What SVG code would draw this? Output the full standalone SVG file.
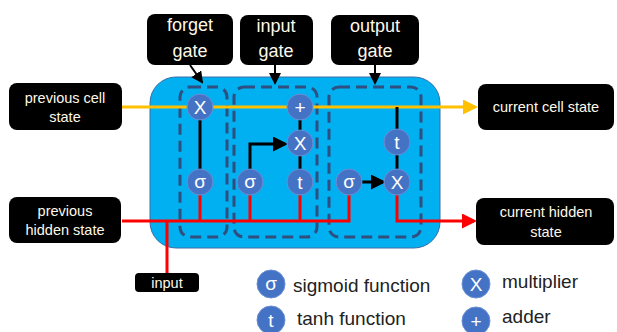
<svg xmlns="http://www.w3.org/2000/svg" width="617" height="332" viewBox="0 0 617 332">
<defs>
<style>
.lbl{fill:#000;}
.lt{fill:#FFF8E8;font-family:"Liberation Sans",Arial,sans-serif;font-size:14.5px;text-anchor:middle;}
.gt{fill:#FFF8E8;font-family:"Liberation Sans",Arial,sans-serif;font-size:18px;text-anchor:middle;}
.op circle{fill:#4472C4;stroke:#6A8FD6;stroke-width:1;}
.op text{fill:#fff;font-family:"Liberation Sans",Arial,sans-serif;font-size:19px;text-anchor:middle;}
.dash{fill:none;stroke:#2F4F80;stroke-width:3;stroke-dasharray:11 6;}
.blk{stroke:#000;stroke-width:3;fill:none;}
.red{stroke:#FF0000;stroke-width:3;fill:none;}
.yel{stroke:#FFC000;stroke-width:3;fill:none;}
.leg{fill:#222;font-family:"Liberation Sans",Arial,sans-serif;font-size:19px;}
</style>
<marker id="ab" markerWidth="6" markerHeight="6" refX="5" refY="3" orient="auto" markerUnits="strokeWidth"><path d="M0,0 L6,3 L0,6 z" fill="#000"/></marker>
<marker id="ab2" markerWidth="5" markerHeight="5" refX="4" refY="2.5" orient="auto" markerUnits="strokeWidth"><path d="M0,0 L5,2.5 L0,5 z" fill="#000"/></marker>
<marker id="ay" markerWidth="5" markerHeight="5" refX="4" refY="2.5" orient="auto" markerUnits="strokeWidth"><path d="M0,0 L5,2.5 L0,5 z" fill="#FFC000"/></marker>
<marker id="ar" markerWidth="5" markerHeight="5" refX="4" refY="2.5" orient="auto" markerUnits="strokeWidth"><path d="M0,0 L5,2.5 L0,5 z" fill="#FF0000"/></marker>
</defs>

<g id="cell">
<rect x="150" y="77" width="290" height="171" rx="26" fill="#00B0F0" stroke="#3A6FA8" stroke-width="1"/>
</g>

<g id="gate-regions">
<rect class="dash" x="180" y="87" width="47" height="150" rx="10"/>
<rect class="dash" x="234" y="87" width="83" height="150" rx="10"/>
<rect class="dash" x="329" y="87" width="92" height="150" rx="10"/>
</g>

<g id="connectors">
<line class="yel" x1="122" y1="107" x2="475" y2="107" marker-end="url(#ay)"/>
<path class="red" d="M122,221 H349 V195"/>
<line class="red" x1="200" y1="195" x2="200" y2="221"/>
<line class="red" x1="250" y1="195" x2="250" y2="221"/>
<line class="red" x1="300" y1="195" x2="300" y2="221"/>
<line class="red" x1="167" y1="221" x2="167" y2="273"/>
<path class="red" d="M397,195 V221 H474" marker-end="url(#ar)"/>
<line class="blk" x1="200" y1="120" x2="200" y2="169"/>
<line class="blk" x1="300" y1="120" x2="300" y2="169"/>
<path class="blk" d="M250,169 V144 H285" marker-end="url(#ab2)"/>
<line class="blk" x1="397" y1="107" x2="397" y2="169"/>
<line class="blk" x1="362" y1="182" x2="383" y2="182" marker-end="url(#ab2)"/>
<line stroke="#000" stroke-width="2" x1="190" y1="65" x2="202" y2="82" marker-end="url(#ab)"/>
<line stroke="#000" stroke-width="2" x1="275" y1="65" x2="275" y2="83" marker-end="url(#ab)"/>
<line stroke="#000" stroke-width="2" x1="375" y1="65" x2="375" y2="83" marker-end="url(#ab)"/>
</g>

<g id="forget-x" class="op"><circle cx="200" cy="107" r="13"/><text x="200" y="114">X</text></g>
<g id="forget-sigma" class="op"><circle cx="200" cy="182" r="13"/><text x="200" y="188">σ</text></g>
<g id="input-plus" class="op"><circle cx="300" cy="107" r="13"/><text x="300" y="114">+</text></g>
<g id="input-x" class="op"><circle cx="300" cy="143" r="13"/><text x="300" y="150">X</text></g>
<g id="input-sigma" class="op"><circle cx="250" cy="182" r="13"/><text x="250" y="188">σ</text></g>
<g id="input-t" class="op"><circle cx="300" cy="182" r="13"/><text x="300" y="189">t</text></g>
<g id="output-t" class="op"><circle cx="397" cy="142" r="13"/><text x="397" y="149">t</text></g>
<g id="output-sigma" class="op"><circle cx="349" cy="182" r="13"/><text x="349" y="188">σ</text></g>
<g id="output-x" class="op"><circle cx="397" cy="182" r="13"/><text x="397" y="189">X</text></g>

<g id="forget-gate"><rect class="lbl" x="147" y="14" width="86" height="51" rx="8"/><text class="gt" x="190" y="31">forget</text><text class="gt" x="190" y="57">gate</text></g>
<g id="input-gate"><rect class="lbl" x="240" y="15" width="73" height="50" rx="8"/><text class="gt" x="276" y="32">input</text><text class="gt" x="276" y="57">gate</text></g>
<g id="output-gate"><rect class="lbl" x="331" y="15" width="88" height="50" rx="8"/><text class="gt" x="375" y="32">output</text><text class="gt" x="375" y="57">gate</text></g>

<g id="prev-cell"><rect class="lbl" x="9" y="83" width="113" height="47" rx="8"/><text class="lt" x="65" y="103">previous cell</text><text class="lt" x="65" y="122">state</text></g>
<g id="curr-cell"><rect class="lbl" x="478" y="84" width="136" height="46" rx="8"/><text class="lt" x="546" y="112">current cell state</text></g>
<g id="prev-hidden"><rect class="lbl" x="9" y="197" width="112" height="46" rx="8"/><text class="lt" x="65" y="216">previous</text><text class="lt" x="65" y="235">hidden state</text></g>
<g id="curr-hidden"><rect class="lbl" x="476" y="198" width="138" height="47" rx="8"/><text class="lt" x="546" y="217">current hidden</text><text class="lt" x="546" y="237">state</text></g>
<g id="input"><rect class="lbl" x="135" y="273" width="64" height="19" rx="4"/><text class="lt" x="167" y="288">input</text></g>

<g id="legend">
<g class="op"><circle cx="271" cy="284" r="14"/><text x="271" y="290">σ</text></g>
<text class="leg" x="293" y="292">sigmoid function</text>
<g class="op"><circle cx="271" cy="320" r="14"/><text x="271" y="327">t</text></g>
<text class="leg" x="297" y="325">tanh function</text>
<g class="op"><circle cx="476" cy="284" r="14"/><text x="476" y="291">X</text></g>
<text class="leg" x="502" y="288">multiplier</text>
<g class="op"><circle cx="476" cy="321" r="14"/><text x="476" y="328">+</text></g>
<text class="leg" x="502" y="323">adder</text>
</g>
</svg>
